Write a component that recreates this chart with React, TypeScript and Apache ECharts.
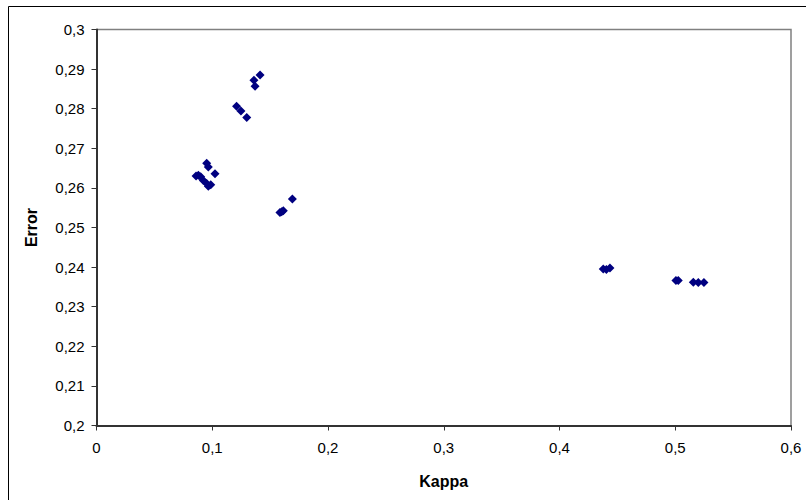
import React, { useEffect, useRef } from "react";
import * as echarts from "echarts";

const kappa: number[] = [
  0.1413, 0.136, 0.137, 0.121, 0.1248, 0.1298,
  0.0952, 0.0966, 0.1024, 0.088, 0.09, 0.0923, 0.0966, 0.0952, 0.0987, 0.086,
  0.1692, 0.1614, 0.1585, 0.16,
  0.4378, 0.4436, 0.4405,
  0.5026, 0.5006, 0.5156, 0.5199, 0.5248,
];
const errorVals: number[] = [
  0.2885, 0.2872, 0.2857, 0.2806, 0.2794, 0.2778,
  0.2662, 0.2653, 0.2636, 0.2632, 0.2628, 0.2619, 0.2604, 0.2611, 0.2608, 0.263,
  0.2572, 0.2542, 0.2538, 0.254,
  0.2395, 0.2398, 0.2394,
  0.2366, 0.2366, 0.2362, 0.2361, 0.2361,
];

const xTitle = "Kappa";
const yTitle = "Error";

const fmt = (v: number) => String(Math.round(v * 100) / 100).replace(".", ",");

export default function App() {
  const ref = useRef<HTMLDivElement>(null);
  useEffect(() => {
    if (!ref.current) return;
    const chart = echarts.init(ref.current, null, { renderer: "svg" });
    const font = "Liberation Sans, Arial, sans-serif";
    chart.setOption({
      animation: false,
      backgroundColor: "#ffffff",
      grid: { left: 96.5, right: 15, top: 29.5, bottom: 74.5, show: false },
      graphic: [
        {
          type: "rect",
          shape: { x: 8.5, y: 6.5, width: 850, height: 600 },
          style: { fill: "none", stroke: "#000", lineWidth: 1 },
          silent: true,
        },
        {
          type: "polyline",
          shape: { points: [[96.5, 29.5], [791, 29.5], [791, 425.5]] },
          style: { stroke: "#808080", lineWidth: 1.5, fill: "none" },
          silent: true,
        },
      ],
      xAxis: {
        type: "value",
        min: 0,
        max: 0.6,
        interval: 0.1,
        name: xTitle,
        nameLocation: "middle",
        nameGap: 48,
        nameTextStyle: { fontFamily: font, fontSize: 16, fontWeight: "bold", color: "#000" },
        axisLine: { show: true, onZero: false, lineStyle: { color: "#333", width: 2 } },
        axisTick: { show: true, length: 5, lineStyle: { color: "#333", width: 1 } },
        axisLabel: { formatter: fmt, margin: 14, fontFamily: font, fontSize: 15, color: "#000" },
        splitLine: { show: false },
      },
      yAxis: {
        type: "value",
        min: 0.2,
        max: 0.3,
        interval: 0.01,
        name: yTitle,
        nameLocation: "middle",
        nameGap: 57,
        nameRotate: 90,
        nameTextStyle: { fontFamily: font, fontSize: 16, fontWeight: "bold", color: "#000" },
        axisLine: { show: true, onZero: false, lineStyle: { color: "#333", width: 2 } },
        axisTick: { show: true, length: 5, lineStyle: { color: "#333", width: 1 } },
        axisLabel: { formatter: fmt, margin: 12, fontFamily: font, fontSize: 15, color: "#000" },
        splitLine: { show: false },
      },
      series: [
        {
          type: "scatter",
          symbol: "diamond",
          symbolSize: 9,
          itemStyle: { color: "#000080", opacity: 1 },
          data: kappa.map((k, i) => [k, errorVals[i]]),
        },
      ],
    });
    return () => chart.dispose();
  }, []);
  return (
    <div
      ref={ref}
      style={{ position: "absolute", left: 0, top: 0, width: 806, height: 500 }}
    />
  );
}
